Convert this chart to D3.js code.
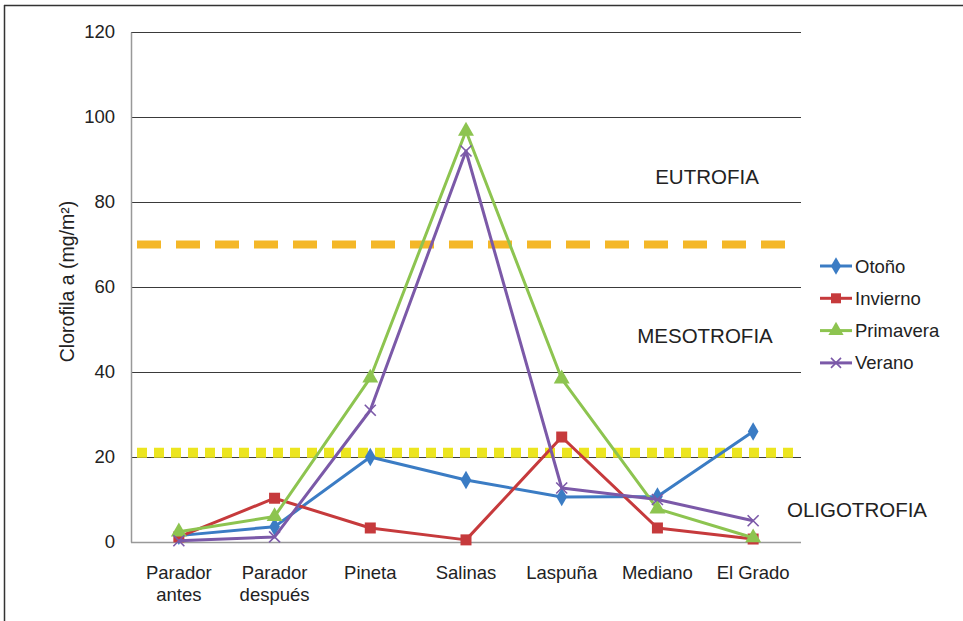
<!DOCTYPE html>
<html lang="es">
<head>
<meta charset="utf-8">
<title>Clorofila a</title>
<style>
  body { margin: 0; background: #fff; }
  text { font-family: "Liberation Sans", Arial, sans-serif; fill: #222; }
</style>
<script src="https://cdn.jsdelivr.net/npm/d3@7"></script>
</head>
<body>
<svg width="963" height="621"></svg>
<script>
const categories = [["Parador", "antes"], ["Parador", "después"], ["Pineta"], ["Salinas"], ["Laspuña"], ["Mediano"], ["El Grado"]];
const otono = [1.5, 3.6, 20, 14.6, 10.6, 10.7, 26];
const invierno = [1.2, 10.3, 3.3, 0.5, 24.7, 3.3, 0.7];
const primavera = [2.4, 6, 38.6, 96.7, 38.4, 7.8, 1];
const verano = [0.3, 1.2, 31, 92, 12.7, 10, 5];
const seriesNames = ["Otoño", "Invierno", "Primavera", "Verano"];
const yTicks = [0, 20, 40, 60, 80, 100, 120];
const limitEutrofia = 70;
const limitOligotrofia = 21;

const svg = d3.select("svg");
const m = { left: 131, right: 801, top: 32, bottom: 542 };

// frame (top and left only)
svg.append("line").attr("x1", 4).attr("x2", 963).attr("y1", 5.5).attr("y2", 5.5)
  .attr("stroke", "#333").attr("stroke-width", 1.5);
svg.append("line").attr("x1", 4.5).attr("x2", 4.5).attr("y1", 5).attr("y2", 621)
  .attr("stroke", "#333").attr("stroke-width", 1.5);

const x = d3.scaleBand().domain(d3.range(categories.length)).range([m.left, m.right]);
const y = d3.scaleLinear().domain([0, 120]).range([m.bottom, m.top]);
const cx = i => x(i) + x.bandwidth() / 2;

// gridlines
svg.append("g").selectAll("line").data(yTicks.filter(d => d > 0)).join("line")
  .attr("x1", m.left).attr("x2", m.right)
  .attr("y1", d => Math.round(y(d)) + 0.5).attr("y2", d => Math.round(y(d)) + 0.5)
  .attr("stroke", "#3a3a3a").attr("stroke-width", 1.2);

// axes
const yAxis = svg.append("g").attr("transform", `translate(${m.left},0)`)
  .call(d3.axisLeft(y).tickValues(yTicks).tickSize(0).tickPadding(16));
yAxis.select(".domain").attr("stroke", "#999").attr("stroke-width", 1.5);
yAxis.selectAll("text").style("font-size", "18.5px").attr("fill", "#222");

svg.append("line").attr("x1", m.left).attr("x2", m.right)
  .attr("y1", m.bottom + 0.5).attr("y2", m.bottom + 0.5)
  .attr("stroke", "#999").attr("stroke-width", 1.5);

const xl = svg.append("g").selectAll("text").data(categories).join("text")
  .attr("x", (d, i) => cx(i)).attr("y", 579)
  .attr("text-anchor", "middle").style("font-size", "18.5px");
xl.selectAll("tspan").data(d => d).join("tspan")
  .attr("x", function () { return this.parentNode.getAttribute("x"); })
  .attr("dy", (d, i) => i === 0 ? 0 : 22)
  .text(d => d);

svg.append("text")
  .attr("transform", `translate(74,281.5) rotate(-90)`)
  .attr("text-anchor", "middle").style("font-size", "19.5px")
  .text("Clorofila a (mg/m²)");

// trophic limits
svg.append("line").attr("x1", m.left + 6).attr("x2", m.right - 4)
  .attr("y1", y(limitEutrofia)).attr("y2", y(limitEutrofia))
  .attr("stroke", "#f4b728").attr("stroke-width", 8).attr("stroke-dasharray", "24,15");
svg.append("line").attr("x1", m.left + 6).attr("x2", m.right - 2)
  .attr("y1", y(limitOligotrofia)).attr("y2", y(limitOligotrofia))
  .attr("stroke", "#ece51f").attr("stroke-width", 10).attr("stroke-dasharray", "10,7");

svg.append("text").attr("x", 707).attr("y", 184).attr("text-anchor", "middle")
  .style("font-size", "20.5px").text("EUTROFIA");
svg.append("text").attr("x", 705).attr("y", 343).attr("text-anchor", "middle")
  .style("font-size", "20.5px").text("MESOTROFIA");
svg.append("text").attr("x", 857).attr("y", 517).attr("text-anchor", "middle")
  .style("font-size", "20.5px").text("OLIGOTROFIA");

// series
const colors = ["#3b7cc4", "#c63a3c", "#8dc450", "#7b59a8"];
const series = [otono, invierno, primavera, verano];
const line = d3.line().x((d, i) => cx(i)).y(d => y(d));

function marker(g, k, size) {
  const c = colors[k];
  if (k === 0) {
    g.append("path").attr("d", d3.symbol(d3.symbolDiamond, size * 9)()).attr("fill", c);
  } else if (k === 1) {
    g.append("rect").attr("x", -size / 2).attr("y", -size / 2)
      .attr("width", size).attr("height", size).attr("fill", c);
  } else if (k === 2) {
    g.append("path").attr("d", d3.symbol(d3.symbolTriangle, size * 10)()).attr("fill", c);
  } else {
    const h = size / 2;
    g.append("path").attr("d", `M${-h},${-h}L${h},${h}M${-h},${h}L${h},${-h}`)
      .attr("stroke", c).attr("stroke-width", 1.6).attr("fill", "none");
  }
}

series.forEach((s, k) => {
  svg.append("path").datum(s).attr("d", line)
    .attr("fill", "none").attr("stroke", colors[k]).attr("stroke-width", 3)
    .attr("stroke-linejoin", "round");
  s.forEach((v, i) => {
    const g = svg.append("g").attr("transform", `translate(${cx(i)},${y(v)})`);
    marker(g, k, 11);
  });
});

// legend
const lg = svg.append("g");
seriesNames.forEach((name, k) => {
  const yy = 266 + k * 32.3;
  lg.append("line").attr("x1", 820).attr("x2", 852).attr("y1", yy).attr("y2", yy)
    .attr("stroke", colors[k]).attr("stroke-width", 3);
  const g = lg.append("g").attr("transform", `translate(836,${yy})`);
  marker(g, k, 10);
  lg.append("text").attr("x", 855).attr("y", yy + 6.5).style("font-size", "18.5px").text(name);
});
</script>
</body>
</html>
